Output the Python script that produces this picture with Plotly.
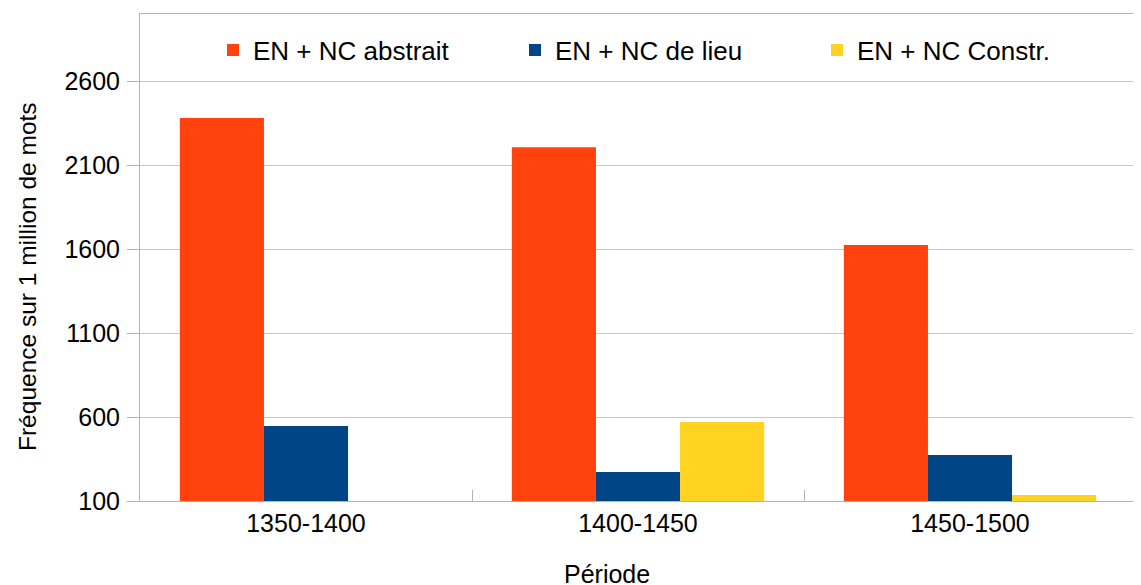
import plotly.graph_objects as go

categories = ["1350-1400", "1400-1450", "1450-1500"]
series_names = ["EN + NC abstrait", "EN + NC de lieu", "EN + NC Constr."]
abstrait = [2380, 2207, 1624]
lieu = [546, 273, 374]
constr = [0, 570, 136]
colors = ["#ff420e", "#004586", "#ffd320"]
y_ticks = [100, 600, 1100, 1600, 2100, 2600]

FAM = "Liberation Sans, Arial, sans-serif"

# page has an 8px default body margin; work in page coordinates and subtract it
OFF = 8
W, H = 1141 - OFF, 585 - OFF
plot_left, plot_right, plot_top, plot_bottom = 140, 1136, 14, 501
L = plot_left - OFF
R = W - (plot_right - OFF)
T = plot_top - OFF
B = H - (plot_bottom - OFF)
pw = plot_right - plot_left
ph = plot_bottom - plot_top

fig = go.Figure()
for name, vals, col in zip(series_names, [abstrait, lieu, constr], colors):
    fig.add_trace(go.Bar(x=categories, y=vals, name=name, marker_color=col,
                         marker_line_width=0))

fig.update_layout(
    width=W, height=H,
    margin=dict(l=L, r=R, t=T, b=B, autoexpand=False),
    paper_bgcolor="white", plot_bgcolor="white",
    font=dict(family=FAM, size=25, color="black"),
    barmode="group", bargap=0.24, bargroupgap=0,
    showlegend=True,
    legend=dict(orientation="h", x=(213 - plot_left) / pw, xanchor="left",
                y=(plot_bottom - 50) / ph, yanchor="middle",
                font=dict(family=FAM, size=26, color="black"),
                entrywidth=257, bgcolor="rgba(0,0,0,0)", itemclick=False),
    xaxis=dict(type="category", showline=True, linecolor="#b3b3b3", linewidth=1,
               mirror=True, ticks="inside", tickson="boundaries", ticklen=11,
               tickcolor="#b3b3b3", showgrid=False, automargin=False,
               tickfont=dict(family=FAM, size=25, color="black")),
    yaxis=dict(range=[100, 3000], tickvals=y_ticks, showline=True, linecolor="#b3b3b3",
               linewidth=1, ticks="outside", ticklen=12, tickcolor="#b3b3b3",
               showgrid=True, gridcolor="#c8c8c8", gridwidth=1, zeroline=False,
               automargin=False, ticklabelstandoff=2,
               tickfont=dict(family=FAM, size=25, color="black")),
)
fig.add_annotation(text="Fréquence sur 1 million de mots", xref="paper", yref="paper",
                   x=(27 - plot_left) / pw, y=(plot_bottom - 277) / ph, textangle=-90,
                   xanchor="center", yanchor="middle", showarrow=False,
                   font=dict(family=FAM, size=24.5, color="black"))
fig.add_annotation(text="Période", xref="paper", yref="paper", x=(607 - plot_left) / pw, y=0,
                   yshift=-73, yanchor="middle", xanchor="center", showarrow=False,
                   font=dict(family=FAM, size=25, color="black"))
fig.write_html("out.html")
